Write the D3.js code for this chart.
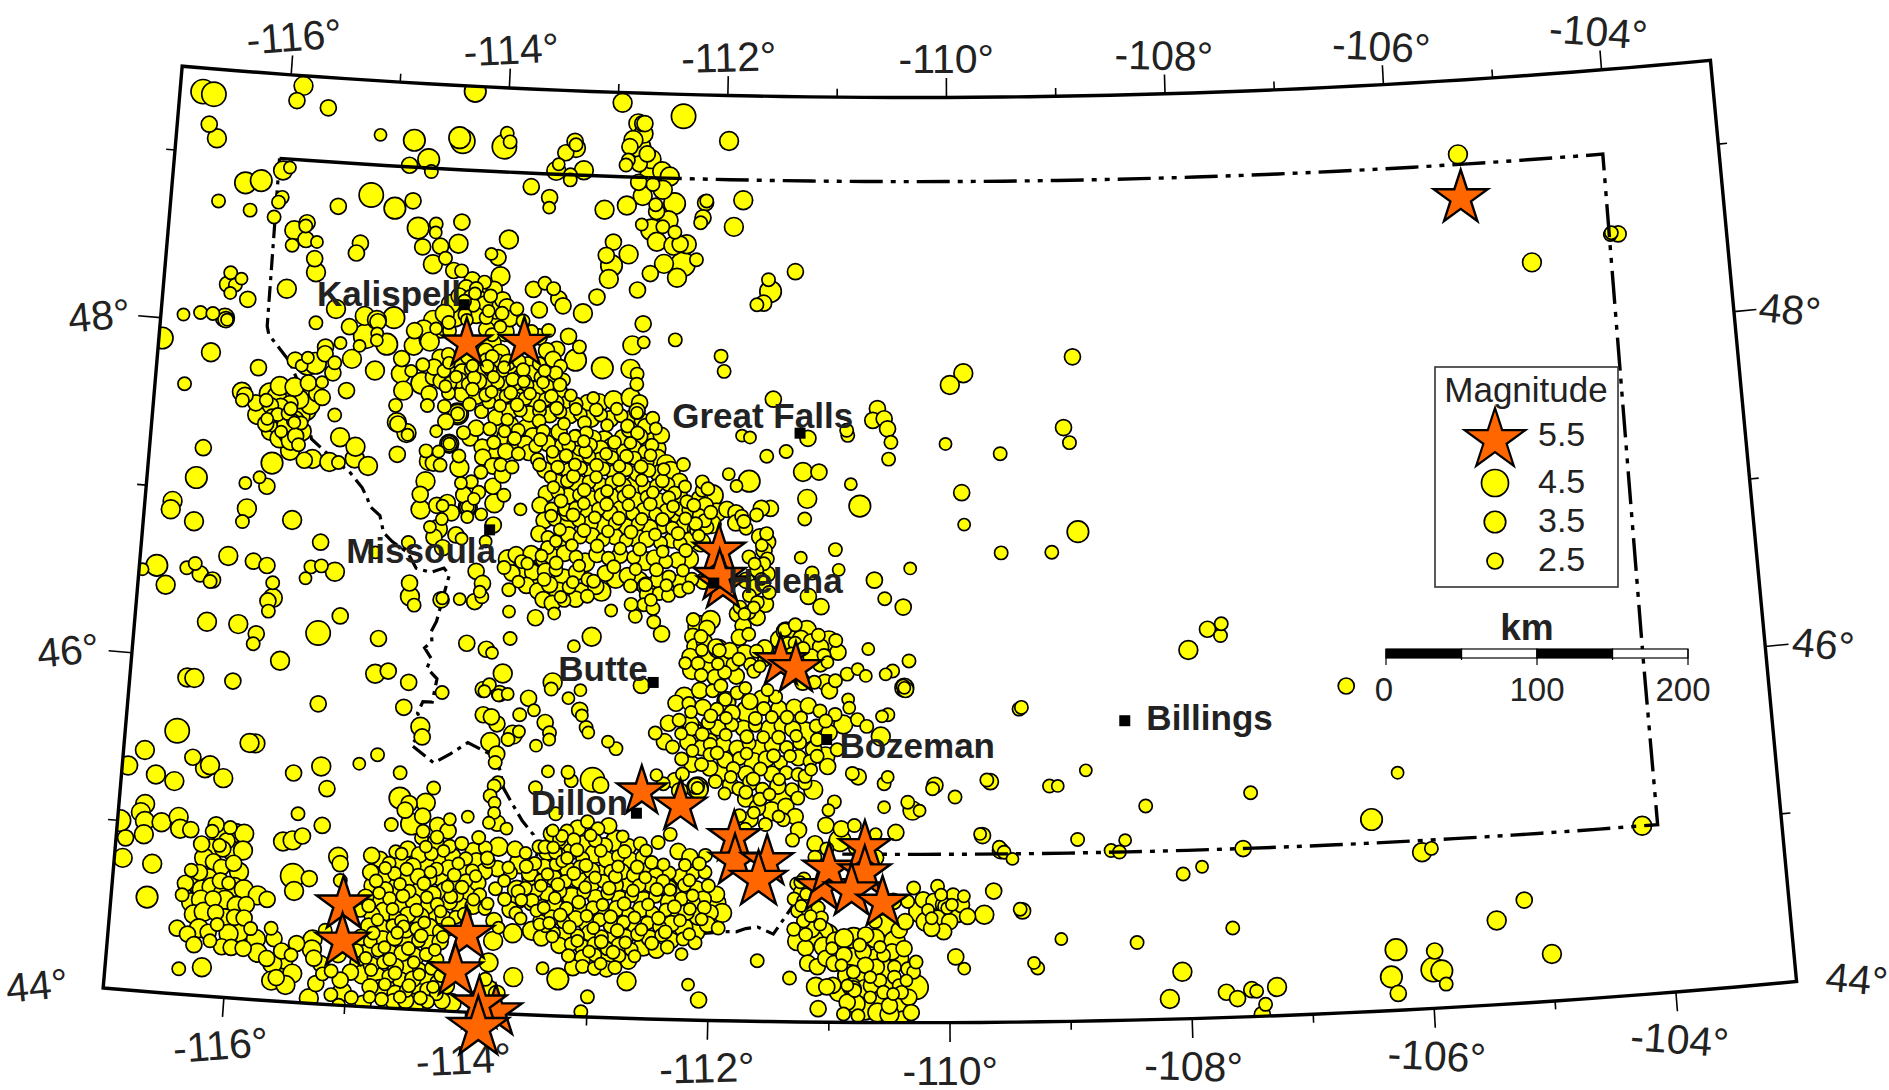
<!DOCTYPE html>
<html>
<head>
<meta charset="utf-8">
<script src="https://cdn.jsdelivr.net/npm/d3@7/dist/d3.min.js"></script>
<style>
  html, body { margin: 0; background: #fff; }
  svg { display: block; }
  text { font-family: "Liberation Sans", Arial, sans-serif; fill: #222; }
</style>
</head>
<body>
<svg id="map" width="1889" height="1090"></svg>
<script>
// [lon, lat, magnitude], by area
var westRim = [[-116.79,49.36,4],[-116.69,49.35,4],[-115.88,49.44,3],[-115.93,49.35,2.5],[-115.64,49.32,2.5],[-116.71,49.17,2.5],[-116.63,49.09,3],[-115.15,49.18,1.8],[-114.84,49.16,3.5],[-114.7,49.05,3.5],[-114.87,49.01,2.5],[-114.67,48.98,2],[-114.43,49.19,3.5],[-114.4,49.17,4],[-114.02,49.15,4],[-114,49.23,2],[-113.97,49.18,2],[-114.31,49.47,3.5],[-116.01,48.93,3],[-115.95,48.95,1.8],[-116.34,48.84,3.5],[-116.2,48.86,3.5],[-116.57,48.72,2],[-116.28,48.68,2],[-116,48.77,2],[-116.03,48.74,2],[-116.06,48.65,2],[-115.2,48.82,4],[-114.98,48.75,3.5],[-114.82,48.8,2.5],[-115.49,48.74,2.5],[-115.87,48.58,3],[-115.76,48.63,2.5],[-115.77,48.61,2],[-115.76,48.53,2.5],[-115.66,48.52,1.8],[-115.88,48.49,2],[-115.67,48.42,2.5],[-115.65,48.34,3],[-115.27,48.53,2.5],[-115.3,48.47,2.5],[-114.76,48.64,3.5],[-114.6,48.67,2],[-114.6,48.62,1.8],[-114.37,48.69,2.5],[-114.71,48.53,2.5],[-114.55,48.54,2.5],[-114.39,48.56,3],[-113.94,48.6,3],[-114.09,48.51,1.8],[-114.03,48.49,2.5],[-114.5,48.47,2],[-114.61,48.43,3],[-114.42,48.4,2.5],[-114.35,48.4,2],[-114,48.38,3],[-116.41,48.3,2],[-116.31,48.27,1.8],[-116.36,48.23,2],[-116.43,48.23,2.5],[-116.4,48.18,1.8],[-116.24,48.15,2.5],[-115.9,48.23,3],[-116.8,48.03,1.8],[-116.65,48.05,2],[-116.54,48.05,2],[-116.43,48.03,3],[-116.42,48.02,2.5],[-116.41,48.02,1.8],[-116.97,47.88,3.5],[-116.53,47.82,3],[-116.1,47.75,2.5],[-116.74,47.62,2],[-115.62,48.04,2],[-115.45,48.13,3],[-115.32,48.03,2.5],[-115.19,48.1,3],[-115.08,48.08,3],[-115.07,48.07,2.5],[-114.93,48.1,3.5],[-114.74,48.03,2.5],[-115.17,47.98,4],[-115.07,48,1.8],[-115.07,47.96,1.8],[-114.98,47.94,3.5],[-115.22,47.92,1.8],[-115.39,47.93,1.8],[-115.52,47.9,2.5],[-115.52,47.86,2.5],[-115.28,47.84,3],[-115.43,47.81,2],[-115.44,47.75,2.5],[-115.67,47.79,3.5],[-115.6,47.8,3.5],[-115.78,47.81,2.5],[-115.72,47.78,1.8],[-115.67,47.83,1.8],[-114.74,47.94,3],[-114.61,47.98,3],[-114.84,47.86,2.5],[-114.84,47.77,3],[-114.75,47.79,1.8],[-114.65,47.83,2],[-114.65,47.72,3.5],[-114.55,47.76,2.5],[-114.81,47.67,3],[-115.07,47.78,3],[-115.53,47.69,1.8],[-116.23,47.6,3],[-116.22,47.55,2],[-115.31,47.65,2.5],[-116.53,47.25,2.5],[-116.57,47.07,3.5],[-116.14,47.06,1.8],[-116.02,47.1,1.8],[-115.95,47.05,2.5],[-115.92,47.19,3.5],[-115.77,47.27,3],[-115.64,47.22,2.5],[-115.57,47.23,3],[-115.42,47.22,3],[-115.34,47.22,2],[-115.34,47.37,3],[-115.2,47.25,3],[-115.2,47.32,3],[-115.08,47.21,3],[-115.4,47.5,2],[-114.83,47.29,2.5],[-114.87,47.58,2],[-114.84,47.47,2.5],[-114.85,47.48,3],[-114.76,47.42,3],[-114.75,47.41,1.8],[-114.5,47.44,1.8],[-114.58,47.32,2],[-114.51,47.25,2.5],[-116.76,46.92,3],[-116.77,46.87,3],[-116.56,46.81,3],[-116.11,46.91,3],[-116.14,46.83,2],[-115.71,46.86,3],[-115.45,46.74,2.5],[-116.85,46.53,3.5],[-116.97,46.5,1.8],[-116.76,46.42,3],[-116.59,46.53,2],[-116.52,46.56,2],[-116.47,46.5,2.5],[-116.38,46.46,2],[-116.36,46.47,2.5],[-116.24,46.62,3],[-116.02,46.6,2.5],[-115.9,46.58,2.5],[-115.84,46.48,2],[-115.83,46.39,3],[-115.87,46.37,2.5],[-115.86,46.31,2],[-115.52,46.59,2],[-115.43,46.6,2],[-115.31,46.57,3],[-115.56,46.52,1.8],[-116.38,46.22,3],[-116.11,46.22,3],[-115.95,46.17,2.5],[-115.97,46.11,2],[-115.42,46.2,4],[-115.24,46.31,2.5],[-114.9,46.19,2.5],[-115.73,46.02,3],[-116.51,45.88,3],[-116.45,45.88,3],[-116.12,45.88,2.5],[-114.91,45.98,3],[-114.8,46,2.5],[-114.62,45.94,2.5],[-114.65,45.79,2.5],[-114.33,45.89,2],[-115.38,45.78,2.5],[-116.56,45.56,4],[-115.89,45.52,3],[-114.66,46.53,2.5],[-114.65,46.45,3],[-114.61,46.4,2],[-114.69,46.77,2],[-114.97,46.7,1.8],[-114.38,46.44,2.5],[-114.37,46.45,1.8],[-114.22,46.45,1.8],[-114.09,46.44,2.5],[-114.09,46.62,2.5],[-114.03,46.55,2.5],[-114.05,46.5,1.8],[-114.03,46.47,2],[-114.5,45.68,3],[-114.48,45.62,2.5],[-114.14,46.19,2.5],[-113.97,46.16,2.5],[-113.98,45.92,2.5],[-113.97,45.91,1.8],[-113.84,45.9,2.5],[-113.85,45.72,2.5]];
var missoula = [[-114.32,47.55,3.5],[-114.32,47.55,3],[-114.32,47.55,2],[-114.38,47.37,3],[-114.38,47.37,2.5],[-114.38,47.37,1.8],[-114.57,47.14,3],[-114.61,47.06,2.5],[-114.6,46.97,3],[-114.46,47,2.5],[-114.37,47.02,2.5],[-114.19,47,3],[-114.19,47,2.5],[-114.19,47,1.8],[-114.33,46.96,2.5],[-114.44,46.86,3],[-114.47,46.81,2.5],[-114.28,46.83,2.5],[-114.39,46.75,2.5],[-114.55,47.26,3],[-114.45,47.24,2],[-114.29,47.3,2],[-114.28,47.23,3],[-114.2,47.41,2.5],[-114.09,47.36,2.5],[-114.08,47.3,2.5],[-113.99,47.25,2.5],[-114.09,47.21,2],[-114.17,47.15,2],[-114.26,47.14,1.8],[-113.98,47.13,2.5],[-114.1,47.09,2],[-114.23,47.07,2.5],[-114.14,47.05,1.8],[-113.96,47.03,3],[-114.07,46.96,1.8],[-114.19,46.94,1.8],[-114.41,47,1.8],[-114.41,46.92,1.8],[-114.51,46.87,1.8],[-114.23,46.81,1.8],[-113.96,46.9,2.5],[-114.58,47.66,2.5],[-114.59,47.59,2],[-114.44,47.59,2],[-114.29,47.67,2.5],[-114.11,47.57,2],[-114.22,47.61,2],[-114.05,47.63,2],[-113.98,47.54,2.5],[-114.42,47.5,2.5],[-114.47,47.32,1.8],[-113.99,47.39,2],[-114.03,47.47,2],[-114.15,47.47,2.5],[-114.26,47.44,2],[-113.9,47.2,2.5],[-113.88,47.08,2],[-114.02,46.8,1.8]];
var panhandle = [[-115.76,47.45,3.5],[-115.76,47.45,3],[-115.76,47.45,2.5],[-115.76,47.45,2],[-115.75,47.44,1.8],[-115.74,47.46,2.5],[-115.72,47.42,3],[-115.7,47.48,3],[-115.66,47.52,3.5],[-115.63,47.6,3.5],[-115.62,47.55,3],[-115.57,47.62,2.5],[-115.72,47.58,3],[-115.78,47.6,3.5],[-115.8,47.55,2.5],[-115.84,47.6,3],[-115.88,47.53,2.5],[-115.92,47.59,3],[-115.97,47.53,2.5],[-116.01,47.56,2],[-116.04,47.49,3],[-116,47.42,2.5],[-115.95,47.38,3],[-115.9,47.42,3],[-115.87,47.34,3],[-115.85,47.47,3],[-115.83,47.42,2.5],[-115.8,47.37,3],[-115.77,47.33,3],[-115.73,47.36,2.5],[-115.68,47.39,3],[-115.95,47.47,2],[-116.08,47.47,3],[-116.1,47.54,2.5],[-115.9,47.48,2],[-115.93,47.51,3],[-115.81,47.49,2],[-115.7,47.31,2],[-116.2,47.58,2.5],[-115.52,47.6,2.5],[-115.98,47.6,3.5],[-115.9,47.65,3],[-115.77,47.65,3],[-115.65,47.68,2.5],[-115.99,47.45,1.8],[-115.86,47.38,1.8],[-115.79,47.52,2],[-115.69,47.44,2]];
var northRim = [[-112.96,49.44,3],[-112.4,49.37,4],[-111.98,49.23,3],[-112.81,49.32,3],[-112.77,49.32,2.5],[-112.75,49.32,2.5],[-112.76,49.26,3],[-112.85,49.22,3],[-112.88,49.18,2.5],[-112.79,49.18,3.5],[-112.89,49.1,2],[-112.91,49.07,2],[-112.79,49.08,2.5],[-112.68,49.11,3],[-112.72,49.14,2.5],[-112.68,49.02,3.5],[-112.58,49.04,3],[-112.51,49.01,3],[-112.79,48.97,2.5],[-112.66,48.96,2],[-112.57,48.93,3],[-112.75,48.89,3],[-112.46,48.85,3.5],[-112.63,48.84,2],[-112.62,48.8,2.5],[-112.51,48.75,3],[-112.89,48.83,3],[-113.09,48.8,3],[-112.18,48.86,2.5],[-112.17,48.87,2],[-111.84,48.88,3],[-112.2,48.77,2.5],[-112.22,48.74,2],[-111.92,48.72,3],[-112.75,48.72,1.8],[-112.66,48.69,3.5],[-112.61,48.62,3],[-112.56,48.71,2],[-112.45,48.68,2],[-112.34,48.61,3],[-112.46,48.6,3],[-112.4,48.61,2.5],[-112.37,48.49,4],[-112.25,48.52,2],[-112.54,48.49,3],[-112.66,48.43,2.5],[-112.42,48.41,3],[-113,48.61,2.5],[-113.06,48.53,2.5],[-112.86,48.54,3],[-113.01,48.47,3.5],[-113.03,48.39,3],[-112.77,48.33,2.5],[-113.13,48.28,2.5],[-113.25,48.18,3],[-113.6,48.35,2],[-113.7,48.31,2.5],[-113.52,48.32,2],[-113.47,48.26,2.5],[-113.43,48.22,2.5],[-113.64,48.19,2.5],[-112.71,48.13,2.5],[-113.37,48.04,2.5],[-113.27,47.98,2],[-113.47,47.96,2.5],[-113.3,47.9,3.5],[-113.06,47.86,3.5],[-112.8,48,3],[-112.7,48.02,1.8],[-112.42,48.04,2],[-112.01,47.95,2],[-111.98,47.86,2],[-112.81,47.86,3],[-112.75,47.83,2],[-112.75,47.77,2],[-111.54,47.7,2.5],[-113.59,48.86,2.5],[-113.59,48.8,1.8],[-113.76,48.92,2.5],[-113.54,49.02,3],[-113.52,49.06,1.8],[-113.41,49,2],[-113.41,48.97,2],[-113.29,49.03,3],[-113.37,49.16,3],[-113.46,49.13,2.5],[-113.37,49.18,2],[-113.38,49.2,2.5]];
var northDense = [[-114.25,48.35,2.5],[-114.14,48.34,2],[-114.3,48.3,2.5],[-114.21,48.3,2],[-114.12,48.29,3],[-114.05,48.3,2.5],[-114.36,48.25,2.5],[-114.26,48.25,2],[-114.18,48.24,2.5],[-114.08,48.26,2],[-113.97,48.24,2.5],[-114.43,48.2,3],[-114.33,48.19,3.5],[-114.23,48.2,2],[-114.13,48.21,2.5],[-114.03,48.18,3],[-113.93,48.2,2.5],[-113.84,48.19,2],[-114.58,48.1,3],[-114.48,48.14,3],[-114.39,48.13,3.5],[-114.3,48.14,2],[-114.2,48.14,2.5],[-114.11,48.13,2],[-114,48.12,3.5],[-113.9,48.13,2.5],[-113.78,48.12,2],[-114.66,48.04,3],[-114.51,48.06,3.5],[-114.43,48.04,2],[-114.1,48.06,2.5],[-114.05,48.03,2],[-113.94,48.05,3],[-113.7,48.06,2],[-113.63,48.03,2.5],[-113.55,48.07,2],[-114.6,47.97,3],[-114.05,47.98,3],[-114.1,47.93,2.5],[-113.97,47.92,3],[-113.56,47.95,2.5],[-113.5,47.9,2.5],[-114.5,47.88,2.5],[-114.43,47.9,2],[-114.34,47.87,2.5],[-114.26,47.89,2],[-114.17,47.86,2.5],[-114.09,47.88,2],[-113.99,47.86,3],[-113.9,47.87,2.5],[-113.8,47.88,2],[-113.72,47.86,2.5],[-113.62,47.87,2],[-113.53,47.85,3],[-113.43,47.86,2],[-114.55,47.82,2.5],[-114.46,47.8,2],[-114.38,47.83,3],[-114.3,47.8,2.5],[-114.22,47.82,2],[-114.13,47.8,2.5],[-114.05,47.82,2],[-113.96,47.8,2.5],[-113.87,47.82,3],[-113.79,47.79,2],[-113.69,47.81,2.5],[-113.6,47.79,2],[-113.5,47.8,2.5],[-113.4,47.78,2],[-114.48,47.74,2.5],[-114.4,47.73,2],[-114.32,47.75,2.5],[-114.24,47.73,2],[-114.15,47.75,2.5],[-114.07,47.73,3],[-113.98,47.75,2],[-113.9,47.74,2.5],[-113.82,47.73,3],[-113.81,47.72,2.5],[-113.83,47.74,2],[-113.72,47.74,2],[-113.63,47.72,2.5],[-113.54,47.74,2],[-113.45,47.72,3],[-114.41,47.67,2],[-114.16,47.66,2.5],[-114.08,47.67,2],[-113.99,47.65,3],[-113.9,47.67,2],[-113.82,47.65,2.5],[-113.73,47.66,2],[-113.64,47.65,2.5],[-113.55,47.66,2],[-113.46,47.64,2.5],[-113.37,47.66,3.5],[-113.28,47.64,2],[-113.18,47.65,2.5],[-113.08,47.65,3],[-112.95,47.67,3],[-112.8,47.69,3],[-112.72,47.66,2.5],[-113.86,47.58,2.5],[-113.77,47.59,2],[-113.69,47.57,2.5],[-113.6,47.59,2],[-113.51,47.57,2.5],[-113.42,47.59,2],[-113.33,47.57,2.5],[-113.24,47.58,2],[-113.15,47.56,3],[-113.06,47.58,2],[-112.97,47.56,2.5],[-112.88,47.58,2],[-112.78,47.56,3],[-112.69,47.55,2.5],[-112.6,47.57,2]];
var northFill = [[-114.22,48.27,1.8],[-114.31,48.22,2],[-114.09,48.17,1.8],[-113.97,48.16,2],[-114.28,48.11,1.8],[-114.44,48.09,2],[-114.55,48.05,1.8],[-113.98,48.08,1.8],[-114.04,47.9,2],[-114.42,47.85,1.8],[-114.21,47.84,1.8],[-114.08,47.84,2],[-113.93,47.84,1.8],[-113.76,47.83,2],[-113.57,47.83,1.8],[-113.47,47.82,2],[-114.35,47.77,1.8],[-114.19,47.77,2],[-114.02,47.78,1.8],[-113.85,47.77,2],[-113.75,47.76,2.5],[-113.75,47.76,1.8],[-113.58,47.76,1.8],[-113.43,47.75,2],[-114.44,47.71,1.8],[-114.2,47.7,2],[-114.03,47.69,1.8],[-113.86,47.69,2],[-113.69,47.69,1.8],[-113.5,47.68,2],[-113.33,47.69,1.8],[-113.13,47.68,1.8],[-113.95,47.61,1.8],[-113.8,47.62,2],[-113.6,47.62,1.8],[-113.45,47.61,2],[-113.28,47.61,1.8],[-113.1,47.61,2],[-112.92,47.62,1.8],[-112.74,47.61,2.5],[-112.74,47.6,1.8],[-113.88,47.53,1.8],[-113.6,47.53,2],[-113.38,47.52,1.8],[-113.2,47.53,2],[-113,47.52,1.8],[-112.82,47.52,2],[-112.66,47.52,2.5],[-112.57,47.51,1.8]];
var central = [[-113.95,47.48,3],[-113.85,47.5,2.5],[-113.78,47.47,2],[-113.71,47.48,3],[-113.65,47.44,2.5],[-113.56,47.47,2],[-113.5,47.44,2.5],[-113.42,47.47,2.5],[-113.27,47.44,2.5],[-113.26,47.43,2],[-113.28,47.45,1.8],[-113.18,47.47,2],[-113.12,47.44,2.5],[-113.02,47.43,3],[-112.86,47.45,2.5],[-112.72,47.47,3],[-112.71,47.46,2.5],[-112.73,47.48,2],[-112.62,47.44,3],[-112.52,47.47,2.5],[-113.88,47.43,3],[-113.8,47.41,3.5],[-113.79,47.4,3],[-113.81,47.42,2],[-113.71,47.39,2.5],[-113.62,47.38,2],[-113.52,47.4,2.5],[-113.42,47.38,3],[-113.33,47.39,2],[-113.23,47.38,2.5],[-113.14,47.4,2],[-113.05,47.38,2.5],[-112.95,47.39,3],[-112.85,47.37,2],[-112.76,47.39,2.5],[-112.66,47.37,2],[-112.56,47.39,3],[-113.98,47.36,3.5],[-113.88,47.34,2.5],[-113.77,47.33,2],[-113.68,47.34,2.5],[-113.6,47.3,2],[-113.45,47.32,2.5],[-113.35,47.33,2],[-113.25,47.31,3],[-113.15,47.33,2],[-113.05,47.31,2.5],[-112.95,47.33,2],[-112.85,47.31,3],[-112.75,47.33,2],[-112.65,47.31,2.5],[-112.55,47.33,3],[-112.47,47.3,3],[-113.92,47.26,2],[-113.82,47.25,2],[-113.53,47.24,2.5],[-113.42,47.26,2],[-113.32,47.24,2.5],[-113.22,47.26,2],[-113.12,47.24,2.5],[-113.02,47.26,2],[-112.92,47.24,2.5],[-112.82,47.26,2],[-112.72,47.24,2.5],[-112.62,47.26,2],[-112.52,47.24,3],[-112.43,47.26,3],[-112.32,47.3,2],[-112.35,47.2,2.5],[-112.45,47.18,2],[-113.42,47.17,2.5],[-113.33,47.18,2],[-113.23,47.16,3],[-113.14,47.18,2],[-113.04,47.16,2.5],[-112.94,47.18,2],[-112.84,47.16,2.5],[-112.74,47.17,3],[-112.64,47.15,2.5],[-112.55,47.17,2],[-112.39,47.13,2],[-113.51,47.1,2.5],[-113.41,47.11,2],[-113.32,47.09,2.5],[-113.22,47.1,2],[-113.12,47.08,2.5],[-113.02,47.1,2.5],[-112.93,47.08,3.5],[-112.83,47.1,2],[-112.73,47.08,2.5],[-112.63,47.1,2],[-112.53,47.08,2.5],[-112.44,47.1,2],[-112.33,47.04,2.5],[-112.28,47.08,2],[-113.56,47.03,2.5],[-113.46,47.01,2],[-113.36,47.03,3],[-113.33,47,3],[-113.32,46.99,2.5],[-113.34,47.01,2],[-113.25,47.02,2],[-113.15,47,2.5],[-113.05,47.02,2],[-112.95,47,2.5],[-112.85,47.02,3],[-112.75,47,2],[-112.65,47.02,2.5],[-112.55,47,2],[-112.45,47.02,2.5],[-112.35,47,3],[-112.25,47.03,2.5],[-112.17,47,2],[-112.08,47.02,3],[-113.52,46.94,2.5],[-113.43,46.95,2],[-113.32,46.93,3],[-113.22,46.95,2],[-113.12,46.93,2.5],[-113.02,46.92,3],[-112.9,46.94,2],[-112.8,46.92,2.5],[-112.7,46.94,2],[-112.6,46.92,2.5],[-112.5,46.94,3],[-112.4,46.92,2],[-112.3,46.94,2.5],[-112.2,46.92,2.5],[-112.19,46.91,2],[-112.1,46.93,2],[-112.25,46.85,2.5],[-113.56,46.86,2.5],[-113.48,46.84,2],[-113.4,46.81,3],[-113.39,46.8,2.5],[-113.41,46.82,1.8],[-113.3,46.86,2.5],[-113.2,46.85,2],[-113.1,46.86,2.5],[-113,46.84,2],[-112.9,46.86,2.5],[-112.8,46.84,2],[-112.72,46.86,3],[-112.62,46.85,2.5],[-112.5,46.83,2],[-112.4,46.85,2.5],[-112.33,46.83,2],[-112.15,46.84,3],[-113.75,46.73,2.5],[-113.82,46.7,3],[-113.7,46.69,2],[-113.62,46.74,2.5],[-113.52,46.72,3],[-113.51,46.71,2.5],[-113.53,46.73,1.8],[-113.44,46.73,2.5],[-113.33,46.75,2.5],[-113.23,46.73,2],[-113.15,46.7,3],[-113.05,46.75,2.5],[-112.95,46.73,2],[-112.85,46.75,2.5],[-112.73,46.74,2],[-112.63,46.72,3],[-112.55,46.74,2.5],[-112.45,46.72,2],[-112.35,46.73,2.5],[-112.25,46.74,3],[-113.85,46.65,2],[-113.78,46.62,2.5],[-113.7,46.64,3],[-113.58,46.62,3.5],[-113.6,46.63,2.5],[-113.49,46.64,2.5],[-113.4,46.65,2],[-113.33,46.6,3],[-113.22,46.64,2.5],[-113.12,46.6,2],[-112.97,46.64,2.5],[-112.88,46.61,3],[-112.78,46.63,2.5],[-112.68,46.6,3],[-112.61,46.57,3],[-112.6,46.56,2.5],[-112.62,46.58,2],[-112.51,46.61,2.5],[-112.42,46.63,2],[-112.32,46.6,2.5],[-112.22,46.62,2],[-112.12,46.61,2.5],[-113.8,46.52,2],[-113.65,46.55,2.5],[-113.55,46.52,2.5],[-113.45,46.56,2.5],[-113.37,46.52,3],[-113.28,46.55,2],[-113.18,46.52,3],[-113.05,46.56,2.5],[-113,46.53,3],[-112.6,46.52,2.5],[-112.5,46.53,2],[-112.42,46.52,2],[-112.32,46.55,2],[-113.5,46.47,2.5],[-113.42,46.45,2.5],[-113.32,46.47,2],[-113.22,46.48,2.5],[-112.63,46.46,2],[-112.55,46.44,2]];
var centralFill = [[-113.9,47.46,1.8],[-113.58,47.42,2],[-113.37,47.43,1.8],[-113.2,47.42,1.8],[-112.93,47.42,2],[-112.79,47.42,1.8],[-112.6,47.41,2],[-113.47,47.35,1.8],[-113.18,47.36,2],[-113,47.35,1.8],[-112.82,47.34,2],[-112.61,47.35,1.8],[-113.58,47.27,2],[-113.27,47.28,1.8],[-113.08,47.28,2],[-112.88,47.28,1.8],[-112.69,47.28,2],[-112.49,47.27,1.8],[-113.48,47.2,1.8],[-113.28,47.21,2],[-113.08,47.21,1.8],[-112.88,47.2,2],[-112.68,47.2,1.8],[-112.5,47.2,2],[-113.45,47.14,1.8],[-113.18,47.13,2],[-112.98,47.13,1.8],[-112.79,47.13,2],[-112.58,47.13,1.8],[-112.35,47.12,2.5],[-113.38,47.06,2],[-113.18,47.05,1.8],[-112.98,47.05,2],[-112.79,47.05,1.8],[-112.6,47.06,2],[-112.4,47.05,1.8],[-112.22,47.06,2],[-113.46,46.97,1.8],[-113.27,46.98,2],[-113.08,46.97,1.8],[-112.87,46.97,2],[-112.67,46.97,1.8],[-112.49,46.97,2],[-112.29,46.98,1.8],[-112.12,46.97,2],[-113.38,46.89,1.8],[-113.17,46.89,2],[-112.96,46.89,1.8],[-112.76,46.89,2],[-112.55,46.88,1.8],[-112.35,46.89,2],[-112.17,46.88,1.8],[-113.48,46.78,2],[-113.27,46.8,1.8],[-113.05,46.8,2],[-112.85,46.79,1.8],[-112.68,46.79,2],[-112.48,46.78,1.8],[-112.28,46.79,2],[-113.65,46.68,1.8],[-113.4,46.69,2],[-113.2,46.68,1.8],[-112.9,46.68,2],[-112.71,46.67,1.8],[-112.53,46.67,2],[-112.3,46.67,1.8],[-113.72,46.57,1.8],[-113.5,46.59,2],[-113.25,46.58,1.8],[-113.07,46.59,2],[-112.75,46.57,2],[-112.44,46.58,1.8],[-112.25,46.57,1.8],[-113.35,46.49,1.8],[-113.12,46.5,2],[-112.57,46.49,1.8]];
var helena = [[-112.3,47.17,1.8],[-112.15,47.15,2],[-112.17,47.1,2.5],[-112.12,47.06,2.5],[-112.15,47.2,2],[-112.1,47.16,2],[-112.06,47.12,3.5],[-112.07,47.02,2],[-112.02,47.02,3],[-111.93,47.04,2.5],[-111.85,47.02,2.5],[-111.8,47,2],[-111.85,46.96,2.5],[-112.06,46.95,3],[-112.2,46.95,2],[-111.76,46.93,2],[-111.78,46.97,2],[-111.64,46.88,2.5],[-111.58,46.9,2],[-111.57,46.85,2.5],[-111.6,46.8,2.5],[-111.57,46.75,2],[-111.6,46.72,2],[-111.66,46.68,2],[-111.57,46.66,2.5],[-111.73,46.76,2],[-111.75,46.62,2.5],[-111.67,46.58,2.5],[-111.6,46.6,2],[-111.55,46.55,2],[-111.72,46.53,2],[-111.65,46.49,2],[-111.58,46.48,2.5],[-111.8,46.46,2],[-111.82,46.42,2.5],[-111.72,46.43,2],[-111.77,46.35,2.5],[-111.65,46.4,2.5],[-111.72,46.3,2],[-111.8,46.28,2.5],[-111.62,46.83,1.8],[-111.68,46.72,1.8],[-111.62,46.63,1.8],[-111.68,46.46,1.8],[-111.76,46.42,1.8]];
var bozeman = [[-112.2,46.38,2],[-112.15,46.34,3.5],[-112.05,46.38,3],[-112.08,46.33,2.5],[-112.13,46.28,2],[-112.2,46.28,2.5],[-112.18,46.22,2.5],[-112.1,46.25,2.5],[-112.05,46.18,3],[-112.22,46.16,2.5],[-112.15,46.12,2],[-112.05,46.1,3.5],[-112,46.22,2.5],[-111.98,46.21,3],[-111.97,46.2,2],[-111.92,46.15,2.5],[-111.85,46.12,2],[-112.2,46.08,3],[-112.12,46.05,2],[-112,46.04,2.5],[-111.92,46.07,2],[-111.82,46.05,2.5],[-111.88,46.2,2.5],[-111.75,46.18,3],[-111.7,46.12,2],[-111.67,46.08,2],[-111.65,46.2,2],[-111.58,46.22,2.5],[-111.58,46.15,2],[-111.45,46.27,3],[-111.4,46.32,3],[-111.39,46.31,2.5],[-111.41,46.33,2],[-111.38,46.24,2.5],[-111.45,46.2,2],[-111.32,46.25,2],[-111.22,46.33,3],[-111.27,46.28,2.5],[-111.32,46.36,2],[-111.18,46.26,2.5],[-111.12,46.3,2],[-111.1,46.23,2.5],[-111.03,46.27,3],[-110.97,46.27,2],[-111.07,46.18,2],[-110.95,46.2,2.5],[-111.1,46.13,2.5],[-111.18,46.17,2.5],[-111.25,46.02,2.5],[-111.15,46.02,2],[-111.06,46.02,2.5],[-111.02,45.97,2.5],[-110.97,46.03,2],[-111.48,45.93,2],[-111.6,45.92,2.5],[-111.7,45.9,2.5],[-111.81,45.95,2],[-111.9,45.9,3],[-111.89,45.89,2.5],[-111.91,45.91,2],[-112.02,45.96,2],[-112.13,45.96,2.5],[-112.26,45.92,3],[-112.22,45.88,2],[-112.33,45.88,2.5],[-112.1,45.86,2.5],[-111.98,45.85,2],[-111.85,45.83,2.5],[-111.72,45.84,3.5],[-111.58,45.86,2],[-111.45,45.86,2.5],[-111.32,45.87,2.5],[-111.2,45.88,2.5],[-111.1,45.85,2],[-110.97,45.83,2],[-110.9,45.77,3],[-110.78,45.8,2],[-110.7,45.76,2],[-112.39,45.76,2.5],[-112.3,45.78,2],[-112.2,45.76,2.5],[-112.18,45.72,3.5],[-112.17,45.71,3],[-112.19,45.73,2],[-112.05,45.77,2],[-111.97,45.74,2.5],[-111.85,45.76,2],[-111.75,45.74,2.5],[-111.65,45.76,2],[-111.52,45.74,3],[-111.42,45.76,2.5],[-111.33,45.74,2.5],[-111.23,45.72,3.5],[-111.13,45.76,2],[-111.02,45.72,2.5],[-112.5,45.7,2],[-112.42,45.65,2.5],[-112.35,45.62,2],[-112.22,45.65,2.5],[-112.1,45.62,2.5],[-112.04,45.65,3],[-112.03,45.64,2],[-111.92,45.64,2.5],[-111.8,45.62,2.5],[-111.7,45.65,2],[-111.6,45.62,3],[-111.5,45.64,2.5],[-111.38,45.63,2],[-111.27,45.66,2],[-111.15,45.62,2.5],[-111.05,45.58,3],[-110.95,45.62,2],[-112.03,45.58,2],[-111.9,45.55,2.5],[-111.78,45.56,2],[-111.66,45.54,3],[-111.55,45.56,2.5],[-111.43,45.54,2],[-111.28,45.57,2.5],[-111.18,45.55,2],[-111.03,45.52,2.5],[-112.27,45.55,2],[-112.18,45.52,2.5],[-112.03,45.5,2.5],[-111.93,45.48,3],[-111.83,45.5,2],[-111.72,45.47,2.5],[-111.6,45.5,2],[-111.5,45.47,2.5],[-111.38,45.48,2],[-111.28,45.47,2],[-111.17,45.5,1.8],[-112.13,45.38,3.5],[-112.12,45.37,3],[-112.14,45.39,2.5],[-112.13,45.38,1.8],[-112.26,45.46,2],[-112.32,45.42,2.5],[-112.42,45.4,2],[-112.48,45.45,1.8],[-112.28,45.36,2.5],[-111.98,45.42,2],[-111.85,45.4,2.5],[-111.78,45.38,2],[-111.68,45.42,2.5],[-111.58,45.38,2],[-111.45,45.4,2.5],[-111.33,45.38,2],[-111.22,45.42,2],[-111.15,45.38,3],[-111.43,45.33,3.5],[-111.38,45.28,2.5],[-111.72,45.32,2.5],[-111.6,45.32,2],[-111.62,45.27,2.5],[-111.5,45.25,3],[-111.77,45.22,2],[-111.68,45.2,2.5],[-111.55,45.17,2],[-111.72,45.14,2],[-111.4,45.2,2],[-111.3,45.22,2.5],[-111.27,45.14,2.5],[-111.32,45.08,2]];
var bozemanFill = [[-112.12,46.2,1.8],[-112.26,46.12,1.8],[-111.98,46.12,1.8],[-111.8,46.15,2],[-111.62,46.11,1.8],[-111.35,46.19,1.8],[-111.25,46.22,2],[-111.04,46.14,1.8],[-111.95,45.99,2],[-111.74,45.98,1.8],[-111.55,45.97,1.8],[-112.2,45.83,1.8],[-112.03,45.81,2],[-111.9,45.8,1.8],[-111.65,45.8,2],[-111.51,45.81,1.8],[-111.38,45.81,2],[-111.26,45.81,1.8],[-111.05,45.79,2],[-112.28,45.7,1.8],[-112.1,45.7,2],[-111.9,45.7,1.8],[-111.72,45.69,2],[-111.58,45.69,1.8],[-111.45,45.69,2],[-111.3,45.7,1.8],[-111.12,45.68,2],[-112.18,45.6,1.8],[-111.97,45.59,2],[-111.72,45.59,1.8],[-111.49,45.58,2],[-111.35,45.58,1.8],[-111.12,45.58,2],[-112.1,45.52,2],[-111.85,45.45,1.8],[-111.66,45.44,2],[-111.44,45.44,1.8],[-111.22,45.46,2],[-111.9,45.35,1.8],[-111.72,45.36,2],[-111.52,45.35,1.8],[-111.28,45.33,2],[-111.65,45.24,1.8],[-111.44,45.22,1.8]];
var dillon = [[-113.02,45.41,4],[-112.95,45.38,2.5],[-113.2,45.4,2],[-113.23,45.45,2],[-113.4,45.45,1.8],[-113.5,45.35,2],[-113.32,45.2,2],[-113.22,45.1,2],[-113.13,45.12,2.5],[-113.05,45.16,2],[-112.96,45.12,2],[-112.87,45.14,2.5],[-113.35,45.08,2.5],[-113.26,45.03,2.5],[-113.16,45.05,2],[-113.08,45.02,3],[-112.98,45.05,2],[-112.9,45.02,2.5],[-112.8,45.05,3.5],[-112.7,45.02,2.5],[-112.6,45.04,2],[-112.45,45.05,2],[-112.35,45.1,2],[-113.45,45,2],[-113.38,44.97,2.5],[-113.28,44.96,2],[-113.18,44.98,2.5],[-113.08,44.94,2],[-112.98,44.97,3],[-112.88,44.94,2.5],[-112.85,44.88,3],[-112.84,44.87,2],[-112.78,44.96,2],[-112.68,44.94,2.5],[-112.58,44.96,2],[-112.5,44.93,2],[-112.28,45,2.5],[-112.18,44.97,2.5],[-112.05,44.98,2],[-113.6,44.9,3.5],[-113.48,44.9,2],[-113.4,44.88,2.5],[-113.3,44.9,2],[-113.2,44.87,2.5],[-113.1,44.89,2],[-113,44.87,2.5],[-112.92,44.85,3],[-112.75,44.87,2.5],[-112.65,44.85,2],[-112.56,44.88,3],[-112.46,44.85,2.5],[-112.35,44.87,2],[-112.25,44.85,2.5],[-112.15,44.87,2],[-112.05,44.88,2],[-113.52,44.84,2.5],[-113.42,44.8,2],[-113.32,44.82,2.5],[-113.22,44.8,2],[-113.1,44.82,3],[-113,44.79,2.5],[-112.9,44.81,2],[-112.8,44.79,2.5],[-112.7,44.81,3],[-112.6,44.79,2],[-112.5,44.8,2.5],[-112.34,44.77,3.5],[-112.33,44.76,3],[-112.35,44.78,2.5],[-112.34,44.77,1.8],[-112.22,44.8,2],[-112.12,44.78,2.5],[-112.02,44.8,2],[-111.95,44.75,2.5],[-113.46,44.74,2],[-113.36,44.72,2.5],[-113.26,44.74,2],[-113.16,44.71,3],[-113.06,44.74,2],[-112.96,44.71,2.5],[-112.86,44.74,2],[-112.76,44.71,2.5],[-112.66,44.73,2],[-112.56,44.7,3],[-112.46,44.73,2],[-112.35,44.7,2.5],[-112.24,44.72,2],[-112.14,44.7,2],[-112.06,44.72,2.5],[-111.95,44.7,3],[-113.5,44.66,2],[-113.4,44.64,2.5],[-113.3,44.66,2.5],[-113.2,44.64,2],[-113.08,44.63,2.5],[-112.98,44.65,2],[-112.88,44.62,3],[-112.78,44.65,2.5],[-112.68,44.62,2],[-112.58,44.65,2.5],[-112.48,44.63,2],[-112.37,44.65,2],[-112.28,44.63,2.5],[-112.2,44.64,2.5],[-112.1,44.62,3],[-112,44.64,2.5],[-111.9,44.64,3],[-113.42,44.56,2],[-113.32,44.58,2.5],[-113.22,44.56,2],[-113.12,44.58,2.5],[-113.02,44.56,3],[-112.92,44.58,2],[-112.82,44.55,2.5],[-112.72,44.57,2],[-112.62,44.55,2.5],[-112.52,44.57,2],[-112.42,44.55,2],[-112.32,44.57,2.5],[-112.22,44.55,3],[-112.13,44.53,3.5],[-112.02,44.57,2.5],[-111.93,44.55,2],[-113.48,44.5,3],[-113.3,44.49,2],[-113.2,44.5,2.5],[-113.1,44.48,2],[-113,44.5,2.5],[-112.9,44.48,2],[-112.8,44.5,3],[-112.7,44.48,2.5],[-112.6,44.5,2],[-112.5,44.48,2.5],[-112.4,44.5,2],[-112.32,44.47,2.5],[-112.22,44.48,2],[-112.12,44.46,2],[-113.25,44.42,2.5],[-113.15,44.43,2],[-113.05,44.41,2.5],[-112.95,44.43,2.5],[-112.85,44.41,2],[-112.75,44.43,2.5],[-112.65,44.41,2],[-112.55,44.43,3],[-112.44,44.41,2.5],[-112.35,44.43,2],[-113.17,44.36,2],[-113.05,44.35,2.5],[-112.95,44.37,2],[-112.85,44.35,2.5],[-112.75,44.37,2],[-112.67,44.34,2.5],[-113.13,44.29,2.5],[-113.05,44.3,2],[-112.95,44.29,2],[-112.85,44.29,2.5],[-112.78,44.3,2],[-113.4,45,2],[-113.68,44.84,2],[-113.55,44.75,2],[-113.6,44.68,2.5],[-113.62,44.6,2]];
var dillonFill = [[-113.26,45.07,1.8],[-113.02,45.08,1.8],[-112.75,45.08,1.8],[-113.33,45,1.8],[-113.13,44.99,2],[-112.93,44.99,1.8],[-112.73,44.99,2],[-112.55,45,1.8],[-113.25,44.92,1.8],[-113.05,44.9,2],[-112.78,44.9,1.8],[-112.62,44.9,2],[-112.4,44.92,1.8],[-112.22,44.92,1.8],[-112.1,44.93,2],[-113.37,44.84,1.8],[-113.15,44.85,2],[-112.97,44.83,1.8],[-112.8,44.84,2],[-112.55,44.84,1.8],[-112.4,44.82,2],[-112.18,44.83,1.8],[-113.42,44.77,1.8],[-113.28,44.78,2],[-113.05,44.77,1.8],[-112.85,44.77,2],[-112.65,44.76,1.8],[-112.45,44.77,2],[-112.15,44.74,1.8],[-113.3,44.7,1.8],[-113.1,44.68,2],[-112.9,44.67,1.8],[-112.72,44.68,2],[-112.52,44.68,1.8],[-112.3,44.67,2],[-112.17,44.66,1.8],[-112.05,44.67,2],[-113.45,44.62,1.8],[-113.25,44.6,2],[-113.03,44.6,1.8],[-112.83,44.6,2],[-112.63,44.6,1.8],[-112.43,44.6,2],[-112.25,44.59,1.8],[-112.07,44.6,1.8],[-113.37,44.53,1.8],[-113.17,44.53,2],[-112.97,44.53,1.8],[-112.77,44.52,2],[-112.57,44.53,1.8],[-112.37,44.52,2],[-112.17,44.51,1.8],[-113.1,44.45,1.8],[-112.9,44.45,2],[-112.7,44.45,1.8],[-112.48,44.45,2],[-113,44.39,1.8],[-112.8,44.39,2],[-112.62,44.37,1.8],[-112.9,44.32,1.8]];
var idahoLink = [[-113.79,44.99,3],[-113.9,44.98,2],[-113.87,44.9,2],[-113.79,44.86,2.5],[-113.65,44.98,2.5],[-113.56,44.96,1.8],[-113.48,44.82,4],[-113.62,44.74,3],[-113.61,44.73,2],[-113.8,44.74,2],[-113.73,44.79,1.8],[-113.67,44.62,2.5],[-113.86,44.65,1.8],[-113.49,44.68,2],[-113.39,44.64,1.8],[-113.28,44.64,3],[-113.42,44.54,1.8],[-113.58,44.57,1.8],[-113.34,44.55,1.8],[-113.31,44.47,1.8],[-113.8,44.55,2.5],[-113.76,44.51,1.8],[-113.28,45.05,2],[-113.34,45.1,1.8],[-113.21,44.94,1.8],[-113.31,44.97,2],[-113.55,44.88,2],[-113.72,44.68,2],[-113.7,44.87,1.8],[-113.58,44.68,1.8]];
var yellowstone = [[-111.28,44.82,2],[-111.22,44.85,2],[-111.25,44.77,2],[-111.18,44.8,2],[-111.3,44.73,2],[-111.22,44.72,2],[-111.15,44.74,2.5],[-111.27,44.66,2],[-111.18,44.66,2],[-111.1,44.68,2],[-111.22,44.6,2],[-111.13,44.6,2.5],[-111.07,44.62,2],[-111.15,44.55,2.5],[-111.05,44.54,3],[-111.3,44.55,2],[-111.27,44.48,3],[-111.2,44.44,2.5],[-111.13,44.49,3],[-111.05,44.45,3],[-111.02,44.52,3.5],[-110.95,44.48,3],[-110.88,44.5,3],[-110.8,44.5,3.5],[-110.7,44.52,2.5],[-110.62,44.5,3],[-110.54,44.58,3.5],[-110.46,44.48,3.5],[-110.42,44.55,2.5],[-110.37,44.6,2.5],[-111.18,44.35,2.5],[-111.1,44.33,2.5],[-111.03,44.38,2.5],[-110.96,44.35,2.5],[-110.88,44.4,2.5],[-110.8,44.38,3.5],[-110.72,44.42,2.5],[-110.63,44.38,3],[-110.55,44.4,2],[-110.48,44.42,2.5],[-110.42,44.38,3],[-110.38,44.44,2.5],[-110.35,44.32,2],[-110.46,44.33,2],[-110.53,44.32,3.5],[-110.61,44.33,2.5],[-110.7,44.34,2.5],[-110.84,44.28,3.5],[-110.8,44.3,2],[-110.75,44.27,3.5],[-110.97,44.22,2.5],[-110.92,44.18,3],[-110.8,44.2,2.5],[-110.81,44.21,3],[-110.79,44.19,2],[-110.7,44.2,3],[-110.65,44.22,2.5],[-110.58,44.25,2],[-110.5,44.22,2.5],[-110.46,44.27,2],[-110.42,44.22,2],[-110.4,44.18,2],[-110.28,44.21,4],[-110.34,44.15,2.5],[-110.42,44.12,3],[-110.5,44.1,2.5],[-110.58,44.12,3.5],[-110.6,44.06,3],[-110.7,44.08,3.5],[-110.78,44.11,3],[-110.76,44.04,2],[-110.85,44.12,2.5],[-110.42,44.05,3.5],[-110.5,44.05,3],[-110.32,44.06,2.5],[-110.3,44.3,2],[-110.28,44.36,2],[-110.88,44.05,2],[-110.1,44.81,2],[-110.22,44.73,2.5],[-110.25,44.66,3.5],[-110.13,44.72,2.5],[-110.12,44.66,3],[-110.2,44.6,3],[-110.05,44.7,2.5],[-110.02,44.68,3.5],[-110.01,44.67,3],[-110.03,44.69,2.5],[-110.02,44.68,1.8],[-110.1,44.62,2.5],[-110,44.6,2.5],[-109.94,44.65,3],[-109.9,44.7,2.5],[-109.97,44.76,2],[-109.88,44.75,1.8],[-109.85,44.63,2.5],[-110.05,44.54,2.5],[-110.15,44.56,2.5],[-110.35,44.72,2],[-110.3,44.8,2],[-110.47,44.72,2.5],[-111.05,44.9,2],[-111.13,44.98,2],[-111.03,45.03,2],[-111.13,45.06,2.5],[-110.92,45.08,3.5],[-110.78,45.04,2.5],[-110.62,44.98,2.5],[-111.25,44.83,1.8],[-111.2,44.76,1.8],[-111.24,44.69,1.8],[-111.16,44.63,1.8],[-111.08,44.58,1.8],[-111.2,44.52,2],[-110.98,44.44,1.8],[-110.75,44.46,2],[-110.58,44.45,1.8],[-110.9,44.34,1.8],[-110.66,44.27,1.8],[-110.55,44.18,2],[-110.47,44.17,1.8],[-110.66,44.15,1.8],[-110.85,44.22,1.8],[-110.36,44.25,1.8],[-110.62,44.6,2],[-110.18,44.67,1.8],[-110.07,44.76,1.8],[-109.98,44.7,1.8],[-110.15,44.62,1.8]];
var idaho = [[-114.32,45,2.5],[-114.2,44.98,2],[-114.1,45,2],[-114,44.96,2.5],[-114.55,44.95,2.5],[-114.65,44.93,2],[-114.45,44.92,2.5],[-114.35,44.93,2],[-114.27,44.9,3],[-114.17,44.92,2.5],[-114.06,44.91,2],[-113.97,44.9,2.5],[-113.88,44.92,2],[-114.78,44.88,2.5],[-114.7,44.86,2],[-114.6,44.88,3],[-114.5,44.85,2.5],[-114.4,44.86,3],[-114.3,44.84,2],[-114.2,44.85,2.5],[-114.1,44.83,3],[-114,44.84,2],[-113.9,44.84,2.5],[-114.85,44.8,2.5],[-114.75,44.78,3],[-114.65,44.8,2],[-114.55,44.77,3],[-114.45,44.79,2.5],[-114.35,44.78,2],[-114.25,44.79,3],[-114.15,44.76,2.5],[-114.05,44.78,2],[-113.95,44.77,2.5],[-114.82,44.72,3],[-114.72,44.7,2.5],[-114.62,44.72,3.5],[-114.52,44.7,2],[-114.42,44.71,3],[-114.32,44.69,2.5],[-114.22,44.71,3],[-114.12,44.69,2],[-114.02,44.71,3],[-113.93,44.7,2],[-114.88,44.65,2.5],[-114.78,44.63,3],[-114.68,44.65,2],[-114.58,44.62,3],[-114.48,44.64,2.5],[-114.38,44.62,3],[-114.28,44.63,2],[-114.18,44.65,2.5],[-114.08,44.62,3],[-113.98,44.63,2.5],[-113.88,44.62,2],[-114.92,44.57,2],[-114.82,44.55,2.5],[-114.72,44.57,3],[-114.62,44.54,2],[-114.52,44.56,2.5],[-114.42,44.55,3],[-114.32,44.56,3.5],[-114.22,44.55,2.5],[-114.12,44.56,2],[-114.84,44.48,2.5],[-114.74,44.47,3],[-114.64,44.49,2],[-114.54,44.48,3.5],[-114.53,44.47,2.5],[-114.55,44.49,1.8],[-114.44,44.48,2],[-114.34,44.49,3],[-114.24,44.47,2.5],[-114.16,44.49,2],[-114.9,44.41,2.5],[-114.82,44.39,2],[-114.72,44.4,3],[-114.62,44.42,2.5],[-114.52,44.4,3],[-114.42,44.41,2],[-114.32,44.39,3],[-114.24,44.41,2.5],[-114.93,44.33,2],[-114.85,44.32,2.5],[-114.75,44.34,2],[-114.65,44.32,3],[-114.55,44.33,2.5],[-114.45,44.31,3],[-114.35,44.33,2],[-114.27,44.3,2.5],[-114.9,44.26,3],[-114.8,44.25,2.5],[-114.7,44.27,2],[-114.6,44.25,2.5],[-114.5,44.26,3],[-114.4,44.24,2],[-114.97,44.2,2.5],[-114.87,44.19,3],[-114.75,44.18,3],[-114.65,44.19,2],[-114.55,44.17,2.5],[-114.45,44.18,2.5],[-114.35,44.19,3],[-114.25,44.17,2],[-114.17,44.15,2.5],[-115.05,44.15,2.5],[-114.8,44.12,2.5],[-114.72,44.11,3],[-114.6,44.1,3.5],[-114.59,44.09,2.5],[-114.5,44.11,2],[-114.4,44.1,3],[-114.32,44.12,2.5],[-114.25,44.1,2],[-114.7,44.05,2],[-114.6,44.04,2.5],[-114.5,44.05,2.5],[-114.42,44.04,3],[-114.32,44.05,2],[-114.2,44.06,2.5],[-114.12,44.05,3],[-113.9,44.08,3],[-113.82,44.14,3],[-113.75,44.12,2.5],[-113.85,44.2,2],[-115.2,44.18,2],[-115.25,44.12,2.5],[-115.22,44.24,2.5],[-115.13,44.2,2],[-115.08,44.3,2.5],[-115.12,44.06,2],[-115.3,44.03,3],[-115.05,44,2],[-114.95,44.05,2],[-114.85,44.02,2.5],[-115.03,44.08,3]];
var idahoFill = [[-114.4,44.97,1.8],[-114.25,44.95,1.8],[-114.6,44.92,1.8],[-114.12,44.88,1.8],[-114.73,44.83,1.8],[-114.55,44.83,2],[-114.35,44.82,1.8],[-114.15,44.81,2],[-113.97,44.81,1.8],[-114.8,44.75,2],[-114.6,44.74,1.8],[-114.4,44.75,2],[-114.2,44.74,1.8],[-114.08,44.74,2],[-114.77,44.68,1.8],[-114.57,44.67,2],[-114.37,44.67,1.8],[-114.17,44.68,2],[-113.98,44.67,1.8],[-114.85,44.6,2],[-114.65,44.59,1.8],[-114.45,44.59,2],[-114.25,44.59,1.8],[-114.05,44.58,2],[-114.77,44.52,1.8],[-114.57,44.52,2],[-114.38,44.52,1.8],[-114.18,44.52,2],[-114.8,44.44,2],[-114.6,44.45,1.8],[-114.4,44.44,2],[-114.22,44.44,1.8],[-114.7,44.36,1.8],[-114.5,44.36,2],[-114.28,44.36,1.8],[-114.85,44.29,1.8],[-114.65,44.29,2],[-114.45,44.28,1.8],[-114.3,44.25,2],[-114.8,44.22,1.8],[-114.6,44.21,2],[-114.4,44.21,1.8],[-114.22,44.21,2],[-114.68,44.14,1.8],[-114.48,44.14,2],[-114.28,44.14,1.8],[-114.55,44.07,1.8],[-114.38,44.07,2],[-114.8,44.06,1.8]];
var idahoWest = [[-116.2,44.98,2],[-116.17,45.02,2.5],[-116.13,44.98,3],[-116,44.98,3],[-116.07,44.93,2.5],[-115.93,44.98,3],[-116.05,45.01,2],[-116.1,44.88,2.5],[-116.02,44.87,3],[-115.93,44.88,3],[-116.28,44.9,2.5],[-116.2,44.87,3.5],[-116.13,44.9,2],[-116.25,44.82,3],[-116.17,44.8,2.5],[-116.1,44.77,2.5],[-116,44.8,2.5],[-115.95,44.75,3],[-116.35,44.74,2],[-116.28,44.73,2.5],[-116.2,44.7,3],[-116.1,44.69,2.5],[-116.03,44.68,2],[-116.39,44.66,2.5],[-116.32,44.67,3],[-116.25,44.63,3],[-116.17,44.65,3],[-116.07,44.62,3],[-115.98,44.66,3],[-115.9,44.65,3],[-116.41,44.59,2],[-116.33,44.55,3],[-116.25,44.57,3],[-116.15,44.58,2.5],[-116.05,44.58,3],[-115.95,44.55,3],[-115.87,44.56,2.5],[-115.78,44.62,3],[-115.7,44.6,2.5],[-116.3,44.48,3],[-116.22,44.5,3],[-116.12,44.5,2.5],[-116.04,44.47,3],[-115.96,44.48,2.5],[-115.88,44.48,2.5],[-116.43,44.39,2.5],[-116.34,44.36,2.5],[-116.25,44.4,3],[-116.17,44.38,2.5],[-116.1,44.43,2],[-116,44.38,3],[-115.92,44.4,3.5],[-115.82,44.42,2],[-115.77,44.36,3],[-116.28,44.3,2.5],[-116.15,44.33,2],[-116.05,44.3,2.5],[-115.97,44.3,2.5],[-115.87,44.3,2.5],[-115.75,44.28,3],[-115.65,44.43,2],[-115.62,44.37,2.5],[-115.55,44.3,2.5],[-115.53,44.25,3],[-115.62,44.22,3],[-115.67,44.25,2.5],[-115.55,44.19,3.5],[-115.45,44.17,3],[-115.62,44.12,3],[-115.58,44.14,2.5],[-115.5,44.1,3],[-115.47,44.28,2],[-115.43,44.35,2.5],[-115.2,44.44,2],[-115.3,44.38,3],[-115.28,44.27,2.5],[-115.3,44.32,3],[-115.1,44.74,2],[-114.85,44.9,2.5]];
var southWest = [[-116.82,45.43,3],[-116.95,45.33,3],[-116.71,45.29,3],[-116.55,45.26,3],[-116.41,45.41,2.5],[-116.3,45.35,3],[-116.26,45.37,3],[-116.14,45.3,3],[-115.94,45.52,3],[-115.32,45.41,3],[-115.55,45.36,2.5],[-115.26,45.28,2.5],[-115,45.44,1.8],[-114.85,45.5,2],[-114.65,45.4,2],[-114.36,45.32,2],[-116.98,45,3.5],[-116.78,45.11,3],[-116.81,45.06,3],[-116.77,45.01,3],[-116.77,44.93,3],[-116.92,44.9,2.5],[-116.63,45.01,3],[-116.49,45.05,3],[-116.47,44.98,3],[-116.38,44.98,2.5],[-116.93,44.78,3],[-116.68,44.76,3],[-116.7,44.56,3.5],[-115.49,45.12,2],[-115.28,45.06,2.5],[-115.6,44.95,3],[-115.52,44.96,3],[-115.44,44.99,2.5],[-116.2,44.17,3],[-116.39,44.15,2],[-115.13,44.88,3],[-115.11,44.84,2.5],[-115.5,44.75,4],[-115.36,44.74,2.5],[-115.48,44.66,3],[-114.7,45.09,2],[-114.06,45.16,1.8],[-114.21,45.14,1.8],[-114.64,45.25,3.5],[-114.56,45.22,2.5],[-114.59,45.18,2.5],[-114.42,45.23,3],[-114.53,45.1,3.5],[-114.44,45.15,2.5],[-114.31,45.1,2.5],[-114.22,45.07,2.5],[-114.44,45.02,2],[-114.31,45.03,2],[-114.43,45.06,2],[-113.84,45.54,2.5],[-113.85,45.49,2],[-113.82,45.37,2],[-113.85,45.35,2],[-113.88,45.29,2],[-113.84,45.25,1.8],[-113.84,45.19,1.8],[-113.81,45.13,2.5],[-113.88,45.13,1.8],[-113.73,45.1,1.8],[-113.96,45.04,2],[-113.64,44.48,3],[-113.4,44.46,2.5],[-113.25,44.22,3.5],[-113.38,44.28,1.8],[-113.62,44.22,3],[-113.83,44.3,3],[-113.8,44.43,3],[-112.68,44.22,3],[-113,44.12,2],[-113.05,44.03,2],[-112.23,44.39,1.8],[-112.17,44.21,1.8],[-112.08,44.12,2.5]];
var south = [[-111.6,44.36,2],[-111.33,44.26,2],[-111.11,44.21,3],[-111.02,44.21,2.5],[-111.09,44.08,2.5],[-109.95,44.39,2.5],[-109.88,44.32,1.8],[-109.71,44.64,3],[-109.63,44.78,2.5],[-109.57,45.02,2.5],[-109.72,45.11,2.5],[-109.95,45.34,2],[-109.65,45.43,2.5],[-110.12,45.41,2.5],[-110.14,45.39,2],[-110.25,45.26,1.8],[-110.31,45.26,3],[-110.35,45.31,2],[-110.55,45.28,1.8],[-110.45,45.13,2.5],[-110.62,45.12,1.8],[-110.97,45.31,2],[-111.02,45.26,1.8],[-111.04,45.17,2.5],[-110.91,45.15,2.5],[-110.8,45.17,2],[-110.55,45.42,2],[-110.52,45.46,1.8],[-110.82,45.48,2],[-110.77,45.46,2.5]];
var helenaSides = [[-111.92,47.25,1.8],[-111.74,47.21,3.5],[-111.85,47.18,1.8],[-111.59,47.36,2],[-111.42,47.39,2],[-111.23,47.47,2.5],[-111.81,47.48,1.8],[-111.74,47.47,1.8],[-110.88,47.49,2],[-111.27,47.27,3],[-111.13,47.27,2.5],[-110.85,47.2,1.8],[-111.23,47.11,3],[-110.77,47.07,3.5],[-111.55,47.05,2.5],[-111.63,47.05,2.5],[-111.67,47.01,2],[-111.25,46.99,2],[-110.98,46.81,2],[-111.28,46.76,1.8],[-110.95,46.69,1.8],[-111.18,46.67,2],[-110.64,46.63,2.5],[-110.55,46.52,2],[-110.39,46.47,2.5],[-111.1,46.47,2.5],[-111.21,46.53,2.5],[-110.69,46.22,1.8],[-110.34,46.15,2],[-110.38,45.99,3],[-110.37,45.98,2.5],[-110.39,46,2],[-110.38,45.99,1.8],[-110.48,46.09,2],[-110.54,46.07,1.8],[-110.87,46.07,2],[-110.78,46.1,1.8],[-110.71,46.06,1.8],[-110.86,45.92,1.8],[-110.85,45.87,1.8],[-110.57,45.82,1.8],[-110.52,45.83,2],[-110.58,45.7,3],[-113.07,46.26,3],[-113.22,46.2,1.8],[-113.77,46.23,2],[-113.92,46.14,1.8],[-113.56,46.36,2.5],[-113.79,46.39,1.8],[-113.4,46.39,1.8],[-112.91,46.42,1.8],[-112.7,46.39,2],[-112.74,46.46,2],[-112.54,46.36,2],[-112.47,46.29,2.5],[-113.73,47,1.8],[-113.82,46.02,3],[-113.93,45.95,2],[-113.85,45.89,1.8],[-113.77,45.9,1.8],[-113.59,45.88,2.5],[-113.66,45.78,2],[-113.54,45.81,1.8],[-113.97,45.77,2.5],[-113.9,45.76,2.5],[-113.39,45.98,3],[-113.4,45.94,2],[-113.15,45.94,1.8],[-113.25,45.89,1.8],[-113.15,45.82,2.5],[-113.13,45.79,1.8],[-112.63,45.98,2.5],[-113.44,45.74,2.5],[-113.4,45.68,2],[-113.4,45.64,1.8],[-113.71,45.66,3],[-113.75,45.63,2],[-113.66,45.68,1.8],[-113.9,45.61,3],[-113.51,45.6,1.8],[-113.09,45.72,2],[-113.07,45.69,1.8],[-112.9,45.64,1.8],[-112.83,45.6,2],[-112.8,47.5,2.5]];
var east = [[-105.36,49.06,3],[-104.76,48.39,3],[-104.04,48.52,2],[-103.97,48.52,2.5],[-104.03,48.53,2],[-108.89,47.95,2.5],[-111.58,48.34,3.5],[-111.6,48.41,2],[-111.64,48.27,2.5],[-111.7,48.26,2],[-111.36,48.46,2.5],[-108.98,47.53,2.5],[-108.93,47.44,2],[-109.54,47.38,2],[-110.02,47.44,1.8],[-109.88,47.15,2.5],[-109.86,46.96,1.8],[-110.33,46.7,1.8],[-109.54,46.79,2],[-109.1,46.79,2],[-108.87,46.91,3.5],[-110.5,47.45,2],[-110.52,47.35,2],[-109.41,44.67,2],[-109.74,45.12,1.8],[-109.58,45.04,2],[-109.68,45.44,2],[-109.4,45.86,2],[-107.94,46.19,3],[-107.77,46.31,2.5],[-107.66,46.27,2],[-107.65,46.34,2],[-109.38,45.87,2],[-106.6,45.94,2.5],[-108.84,45.49,1.8],[-109.15,45.4,2],[-109.08,45.4,1.8],[-108.34,45.27,2],[-108.92,45.08,2],[-108.64,45.01,2],[-108.57,45,2],[-108.52,45.07,1.8],[-109.47,44.97,1.8],[-109.54,45.01,2],[-107.53,45,2.5],[-107.45,45.33,2],[-108.04,44.86,2],[-107.88,44.9,1.8],[-106.2,45.41,1.8],[-106.44,45.14,3.5],[-106.03,44.93,3],[-105.95,44.95,2],[-104.17,45,3],[-109.39,44.66,2.5],[-107.64,44.53,2],[-109.07,44.49,1.8],[-108.44,44.46,2],[-109.3,44.35,1.8],[-109.27,44.32,2],[-108.07,44.28,3],[-108.18,44.12,3],[-107.71,44.15,2.5],[-107.62,44.11,2.5],[-107.5,44.16,2.5],[-107.46,44.15,2],[-107.29,44.17,3],[-107.39,44.07,2],[-107.42,44.01,2.5],[-106.29,44.36,3.5],[-106.34,44.2,3.5],[-106.29,44.1,2.5],[-105.97,44.34,2.5],[-105.99,44.23,4],[-105.92,44.22,3.5],[-105.89,44.14,2],[-105.44,44.5,3],[-105.2,44.61,2.5],[-105,44.28,3],[-109.86,47.86,3],[-109.98,47.79,3],[-110.62,47.65,2.5],[-110.66,47.58,2.5],[-110.56,47.59,2.5],[-110.53,47.53,2.5],[-110.89,47.52,2]];

var stars = [[-105.36,48.8,5.2],[-114.27,47.97,5],[-113.76,47.99,5],[-111.99,46.79,5.1],[-111.95,46.59,5.1],[-111.98,46.64,5.1],[-111.44,46.14,5.1],[-111.31,46.1,5.1],[-112.6,45.35,5],[-112.27,45.27,5.1],[-111.81,45.09,5.1],[-111.8,44.95,5.1],[-111.53,44.95,5.1],[-111.6,44.84,5.3],[-111.07,44.8,5.1],[-111.01,44.91,5.1],[-110.71,45.04,5.1],[-110.71,44.89,5.1],[-110.82,44.78,5.2],[-110.56,44.71,5.1],[-115.06,44.6,5.2],[-115.05,44.38,5.2],[-114.02,44.46,5.2],[-114.1,44.24,5.2],[-113.75,44.01,5.1],[-113.89,44.05,5.2],[-113.89,43.91,5.5]];

var cities = ["Kalispell","Great Falls","Missoula","Helena","Butte","Billings","Bozeman","Dillon"];
var cityLon = [-114.31,-111.3,-113.99,-112.03,-112.53,-108.5,-111.04,-112.64];
var cityLat = [48.2,47.5,46.87,46.6,46,45.78,45.68,45.22];
var labelLon = [-114.98,-111.63,-114.57,-111.41,-112.96,-107.78,-110.27,-113.12];
var labelLat = [48.17,47.53,46.655,46.55,46,45.71,45.575,45.2];

var lonTicks = [-116,-114,-112,-110,-108,-106,-104];
var latTicks = [44,46,48];
var legendMags = [4.5,3.5,2.5];
var scaleKm = [0,50,100,150,200];
var scaleLabels = [0,100,200];

var borderNorth = [[-116.05,49],[-112.7,49]];
var borderDashed = [[-112.7,49],[-110,49],[-107,49],[-104.05,49],[-104.05,48],[-104.05,47],[-104.05,46],[-104.04,45],[-106,45],[-108,45],[-110,45],[-110.9,45]];
var borderIdaho = [[-116.05,49],[-116.05,48],[-116.03,47.95],[-115.83,47.8],[-115.71,47.64],[-115.59,47.35],[-115.5,47.3],[-115.35,47.22],[-115.24,47.17],[-115.12,47.08],[-115.07,47.02],[-115.04,46.97],[-114.95,46.92],[-114.91,46.82],[-114.83,46.77],[-114.69,46.71],[-114.61,46.62],[-114.48,46.6],[-114.37,46.63],[-114.32,46.59],[-114.35,46.5],[-114.41,46.31],[-114.45,46.25],[-114.44,46.19],[-114.5,46.15],[-114.44,46.09],[-114.47,46.03],[-114.38,45.97],[-114.41,45.83],[-114.49,45.83],[-114.53,45.76],[-114.46,45.67],[-114.57,45.57],[-114.37,45.47],[-114.23,45.53],[-114.09,45.6],[-113.84,45.52],[-113.8,45.43],[-113.77,45.34],[-113.7,45.26],[-113.6,45.15],[-113.5,45.07],[-113.46,44.98],[-113.48,44.88],[-113.3,44.8],[-113.1,44.75],[-113,44.45],[-112.85,44.38],[-112.7,44.5],[-112.3,44.5],[-111.85,44.53],[-111.78,44.53],[-111.7,44.55],[-111.6,44.56],[-111.47,44.52],[-111.3,44.7],[-111.05,44.5],[-111.05,45]];

var svg = d3.select("#map");
var proj = d3.geoConicConformal().parallels([45,49]).rotate([110,0]).angle(0.22).scale(9640).translate([0,0]);
var o = proj([-110,44]);
proj.translate([950-o[0],1022.6-o[1]]);

var line = d3.line().x(function(d){return proj(d)[0]}).y(function(d){return proj(d)[1]});
var radius = d3.scaleLinear().domain([2.5,4.5]).range([8,13.5]);
var starWidth = d3.scaleLinear().domain([5,5.5]).range([52,64]);

var frame = [].concat(
  d3.range(-117,-102.99,0.25).map(function(l){return [l,44]}),
  d3.range(44,49.51,0.25).map(function(l){return [-103,l]}),
  d3.range(-103,-117.01,-0.25).map(function(l){return [l,49.5]}),
  d3.range(49.5,43.99,-0.25).map(function(l){return [-117,l]}));

svg.append("clipPath").attr("id","inside").append("path").attr("d",line(frame)+"Z");

function border(pts, dash, width){
  var dense = [];
  pts.forEach(function(p,i){
    if (i==0) { dense.push(p); return; }
    var a = pts[i-1], n = Math.max(1,Math.ceil(Math.abs(p[0]-a[0])/0.25));
    d3.range(1,n+1).forEach(function(k){ dense.push([a[0]+(p[0]-a[0])*k/n, a[1]+(p[1]-a[1])*k/n]) });
  });
  svg.append("path").attr("d",line(dense)).attr("fill","none").attr("stroke","#000")
    .attr("stroke-width",width).attr("stroke-dasharray",dash);
}
border(borderIdaho,"16 6 4 6",3.2);

var quakes = [].concat(westRim,missoula,panhandle,northRim,northDense,northFill,central,centralFill,helena,helenaSides,bozeman,bozemanFill,dillon,dillonFill,idahoLink,yellowstone,idaho,idahoFill,idahoWest,southWest,south,east);
quakes.sort(function(a,b){return b[2]-a[2]});

svg.append("g").attr("clip-path","url(#inside)").selectAll("circle").data(quakes).enter().append("circle")
  .attr("cx",function(d){return proj(d)[0]})
  .attr("cy",function(d){return proj(d)[1]})
  .attr("r",function(d){return radius(d[2])})
  .attr("fill","#ffff00").attr("stroke","#000").attr("stroke-width",1.7);

border(borderNorth,null,3.4);
border(borderDashed,"33 8 5 8 5 8",3.4);

svg.append("path").attr("d",line(frame)+"Z").attr("fill","none").attr("stroke","#000").attr("stroke-width",3.4);

d3.range(-116,-103).forEach(function(l){
  var len = l%2==0 ? 0.115 : 0.05;
  svg.append("path").attr("d",line([[l,44],[l,44-len]])).attr("stroke","#000").attr("stroke-width",1.6);
  svg.append("path").attr("d",line([[l,49.5],[l,49.5+len]])).attr("stroke","#000").attr("stroke-width",1.6);
});
d3.range(45,50).forEach(function(l){
  var len = l%2==0 ? 0.2 : 0.08;
  svg.append("path").attr("d",line([[-117,l],[-117-len,l]])).attr("stroke","#000").attr("stroke-width",1.6);
  svg.append("path").attr("d",line([[-103,l],[-103+len,l]])).attr("stroke","#000").attr("stroke-width",1.6);
});

function tilt(lon){ return (lon+110)*0.731 }
lonTicks.forEach(function(l){
  [[44,-0.28],[49.5,0.23]].forEach(function(e){
    var p = proj([l,e[0]+e[1]]);
    svg.append("text").attr("transform","translate("+p+") rotate("+tilt(l)+")").attr("text-anchor","middle")
      .attr("dy","0.36em").attr("font-size",41).text(l+"°");
  });
});
latTicks.forEach(function(l){
  [-117.55,-102.5].forEach(function(e){
    var p = proj([e,l]);
    svg.append("text").attr("transform","translate("+p[0]+","+(p[1]+3)+") rotate("+tilt(e)+")").attr("text-anchor","middle")
      .attr("dy","0.36em").attr("font-size",41).text(l+"°");
  });
});

function star(w){ return d3.symbol().type(d3.symbolStar).size(1150*(w/64)*(w/64))() }
svg.selectAll(".star").data(stars).enter().append("path").attr("class","star")
  .attr("d",function(d){return star(starWidth(d[2]))})
  .attr("transform",function(d){return "translate("+proj(d)+")"})
  .attr("fill","#ff6600").attr("stroke","#000").attr("stroke-width",2.4);

cities.forEach(function(c,i){
  var m = proj([cityLon[i],cityLat[i]]), p = proj([labelLon[i],labelLat[i]]);
  svg.append("rect").attr("x",m[0]-5.5).attr("y",m[1]-5.5).attr("width",11).attr("height",11).attr("fill","#000");
  svg.append("text").attr("x",p[0]).attr("y",p[1]).attr("text-anchor","middle").attr("font-weight","bold").attr("font-size",35).attr("fill","#333").text(c);
});

// legend
var lg = svg.append("g");
lg.append("rect").attr("x",1435).attr("y",367).attr("width",183).attr("height",220).attr("fill","#fff").attr("stroke","#333").attr("stroke-width",1.6);
lg.append("text").attr("x",1526).attr("y",402).attr("text-anchor","middle").attr("font-size",35).text("Magnitude");
lg.append("path").attr("d",star(64)).attr("transform","translate(1495,440)").attr("fill","#ff6600").attr("stroke","#000").attr("stroke-width",2.2);
lg.append("text").attr("x",1538).attr("y",446).attr("font-size",34).text("5.5");
var legendY = d3.scalePoint().domain(legendMags).range([483,561]);
legendMags.forEach(function(m){
  lg.append("circle").attr("cx",1495).attr("cy",legendY(m)).attr("r",radius(m)).attr("fill","#ffff00").attr("stroke","#000").attr("stroke-width",1.7);
  lg.append("text").attr("x",1538).attr("y",legendY(m)+10).attr("font-size",34).text(m.toFixed(1));
});

// scale bar
var km = d3.scaleLinear().domain([0,200]).range([1386,1688]);
scaleKm.slice(0,-1).forEach(function(k,i){
  svg.append("rect").attr("x",km(k)).attr("y",649).attr("width",km(scaleKm[i+1])-km(k)).attr("height",9)
    .attr("fill",i%2==0?"#000":"#fff").attr("stroke","#000").attr("stroke-width",1.2);
});
scaleKm.forEach(function(k){
  svg.append("line").attr("x1",km(k)).attr("x2",km(k)).attr("y1",649).attr("y2",k%100==0?665:660).attr("stroke","#000").attr("stroke-width",1.2);
});
scaleLabels.forEach(function(k){
  svg.append("text").attr("x",km(k)-(k==0?2:(k==200?5:0))).attr("y",701).attr("text-anchor","middle").attr("font-size",33).text(k);
});
svg.append("text").attr("x",1527).attr("y",640).attr("text-anchor","middle").attr("font-weight","bold").attr("font-size",37).attr("fill","#000").text("km");
</script>
</body>
</html>
